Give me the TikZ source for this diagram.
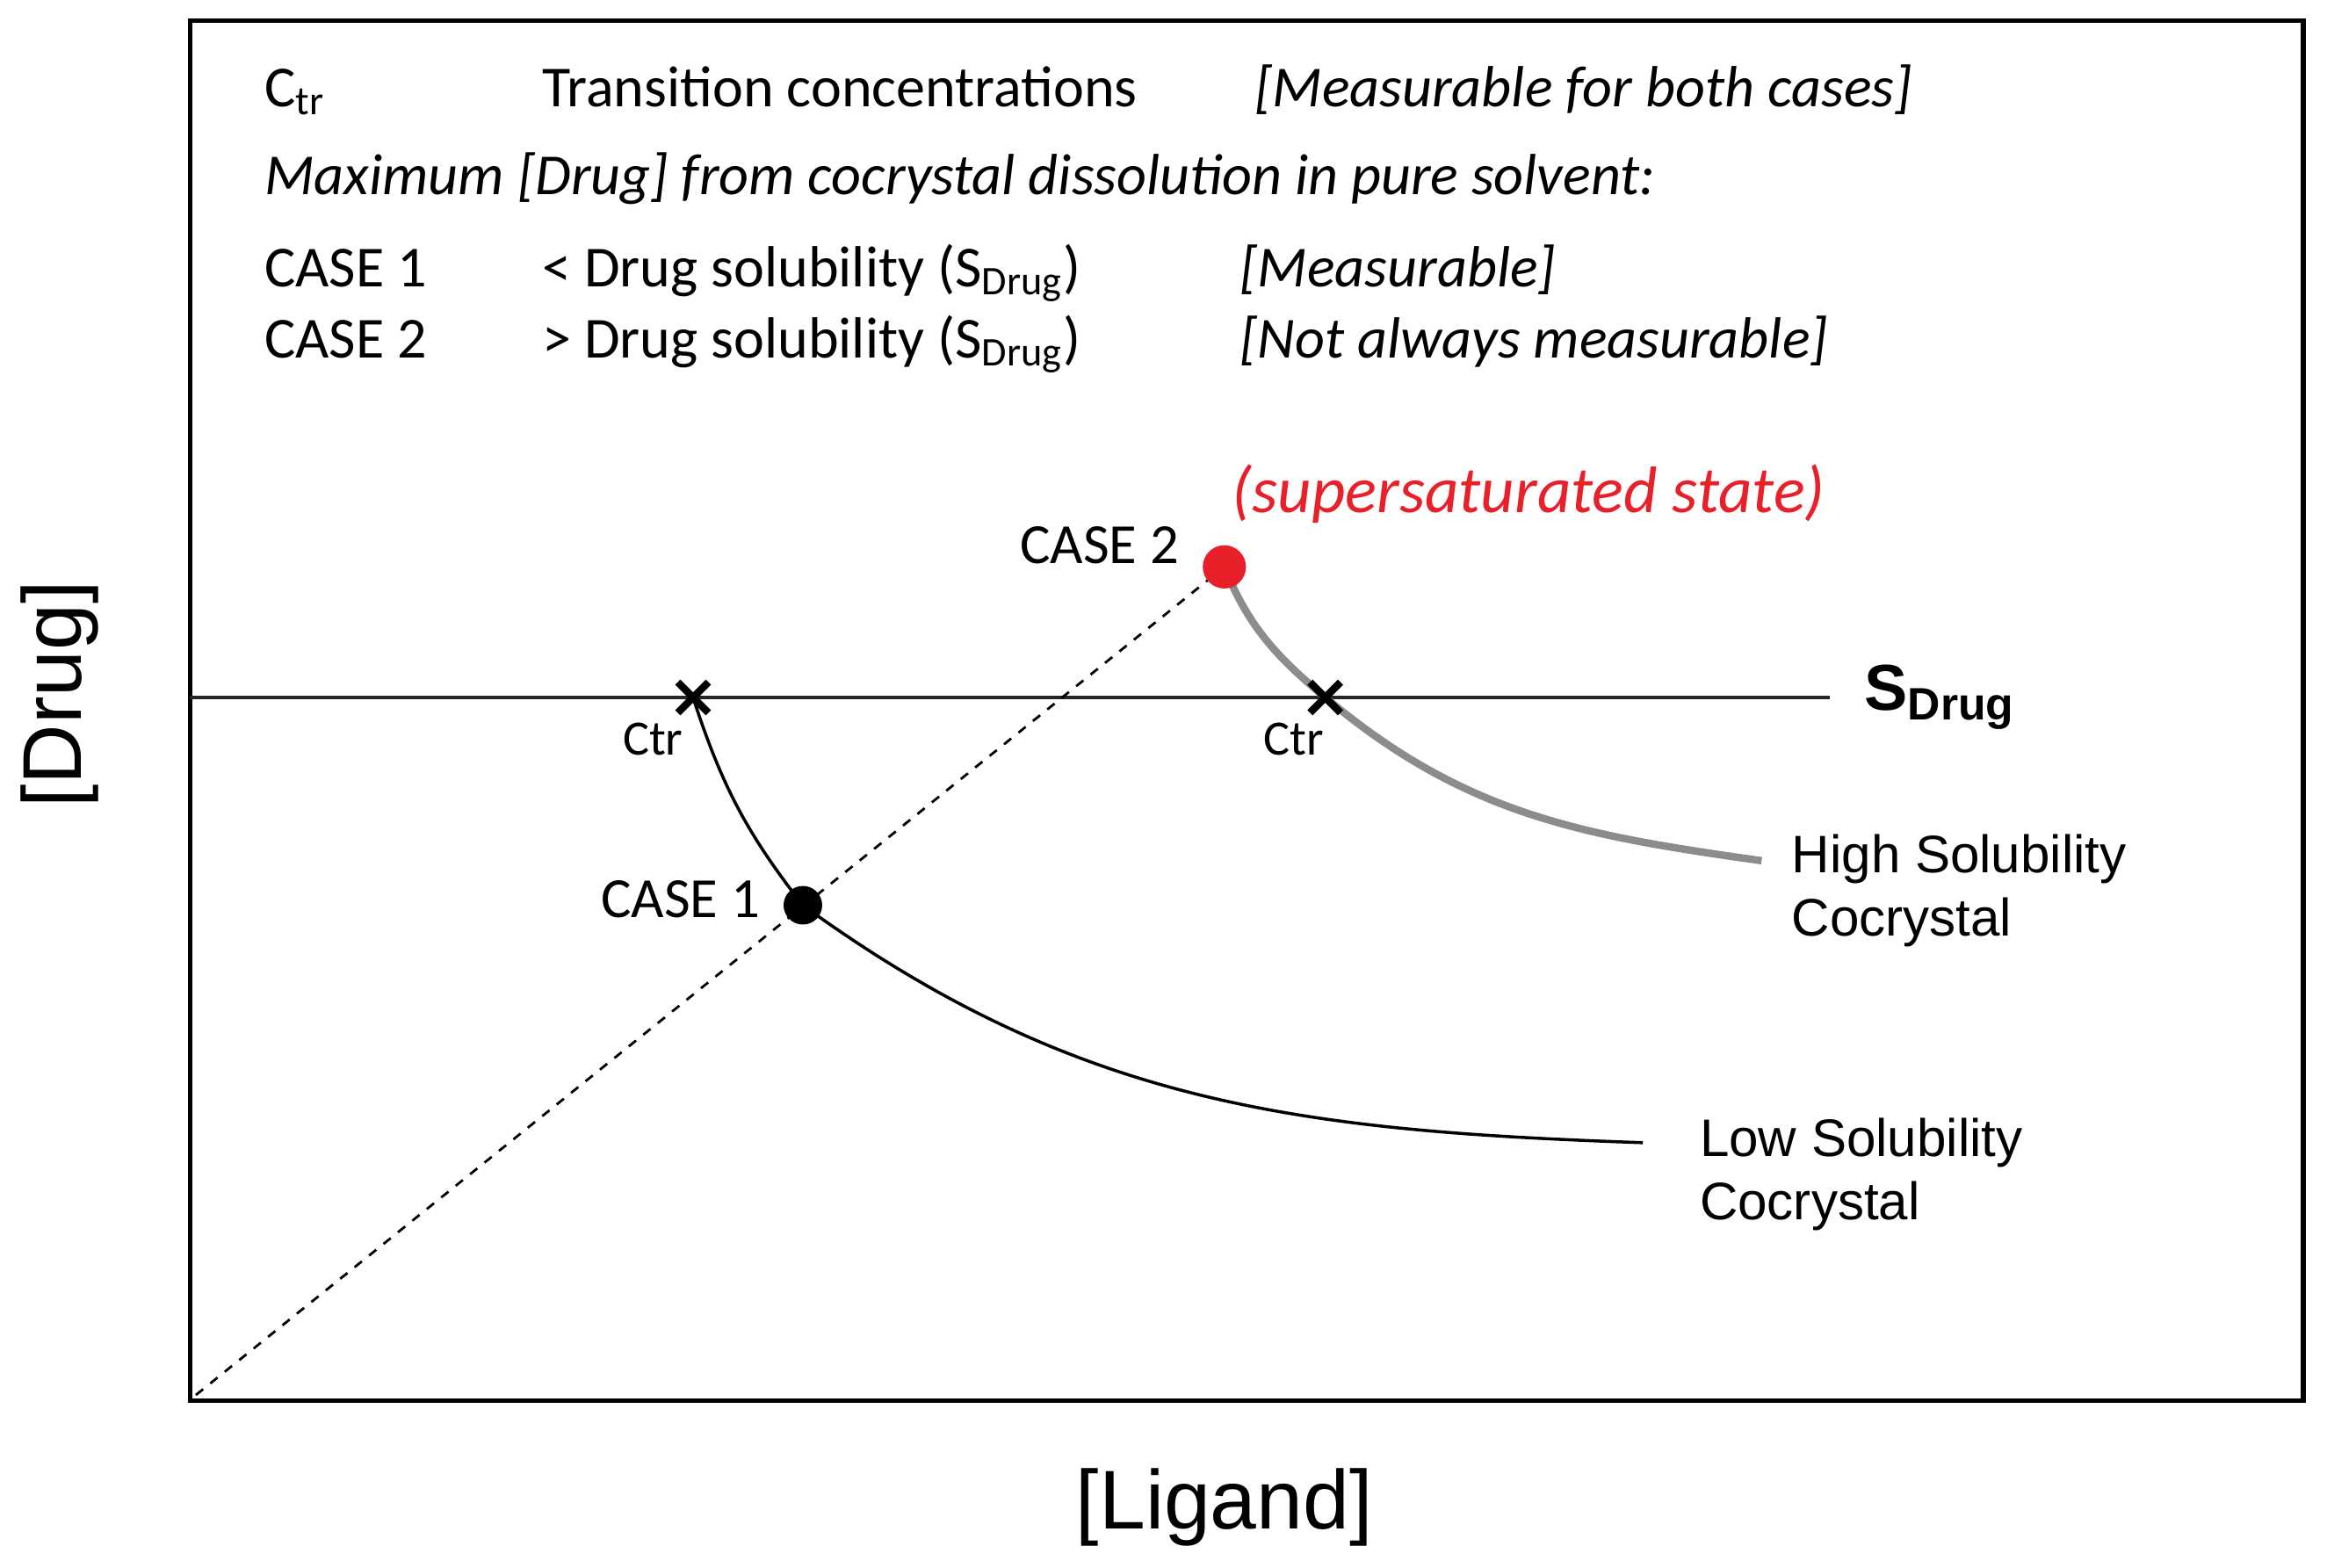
\documentclass[tikz,border=0pt]{standalone}
\usepackage{fontspec}
\setmainfont{Carlito}
\newfontfamily\arial{Liberation Sans}
\definecolor{dotred}{HTML}{E8202A}
\usetikzlibrary{shapes.misc,positioning}

\begin{document}
\begin{tikzpicture}[x=0.016894cm,y=0.016894cm,
    dot/.style={circle,fill,inner sep=0pt,minimum size=12.5pt},
    ctr/.style={cross out,draw,line width=2.4pt,inner sep=0pt,minimum size=7.5pt},
    txt/.style={anchor=base west,inner sep=0pt,font=\fontsize{18.8}{22}\selectfont},
    ittxt/.style={txt,font=\fontsize{18.8}{22}\selectfont\itshape},
    lbl/.style={anchor=north west,inner sep=0pt,align=left,font=\arial\fontsize{17.1}{20.5}\selectfont}]
    \useasboundingbox (0,0) rectangle (1568,1056);
    \draw[line width=1.5pt] (128,112) rectangle (1552,1042);
    \coordinate (o) at (132,116);
    \coordinate (sl) at (128,586);
    \coordinate (sr) at (1233,586);
    \coordinate (c1) at (467,586);
    \coordinate (c2) at (893,586);
    \coordinate (p1) at (541,446);
    \coordinate (p2) at (825,674);
    \coordinate (lowend) at (1107,286);
    \coordinate (highend) at (1187,476);
    \draw[line width=1.1pt,black!85] (sl) -- (sr);
    \draw[dashed,line width=0.8pt] (o) -- (p2);
    \draw[line width=1pt] (c1) to[out=-72,in=128] (p1) to[out=-36,in=178] (lowend);
    \draw[line width=2.4pt,black!45] (p2) to[out=-68,in=140] (c2) to[out=-40,in=172] (highend);
    \node[ctr] (x1) at (c1) {};
    \node[ctr] (x2) at (c2) {};
    \node[dot] (d1) at (p1) {};
    \node[dot,dotred,minimum size=14pt] (d2) at (p2) {};
    \node[font=\fontsize{16}{19}\selectfont] (t1) at (440,558) {Ctr};
    \node[font=\fontsize{16}{19}\selectfont] (t2) at (872,558) {Ctr};
    \node[left=4pt of d1,font=\fontsize{18.4}{21}\selectfont,yshift=2pt] (k1) {CASE 1};
    \node[left=4pt of d2,font=\fontsize{18.4}{21}\selectfont,yshift=7pt] (k2) {CASE 2};
    \node[anchor=west,inner sep=0pt,text=dotred,font=\fontsize{21.3}{24}\selectfont\itshape] (ss) at (830,723) {(supersaturated state)};
    \node[right=11pt of sr,inner sep=0pt,font=\arial\bfseries\fontsize{21}{24}\selectfont] (sd) {S\textsubscript{Drug}};
    \node[lbl] (hs) at (1207,494) {High Solubility\\Cocrystal};
    \node[lbl] (ls) at (1145,303) {Low Solubility\\Cocrystal};
    \node[rotate=90,font=\arial\fontsize{27}{30}\selectfont] (yl) at (40,588) {[Drug]};
    \node[font=\arial\fontsize{27}{30}\selectfont] (xl) at (825,40) {[Ligand]};
    \node[txt] (a1) at (178,984) {C\textsubscript{tr}};
    \node[txt] (a2) at (365,984) {Transition concentrations};
    \node[ittxt] (a3) at (845,984) {[Measurable for both cases]};
    \node[ittxt] (b1) at (178,925) {Maximum [Drug] from cocrystal dissolution in pure solvent:};
    \node[txt] (e1) at (178,863) {CASE 1};
    \node[txt] (e2) at (365,863) {< Drug solubility (S\textsubscript{Drug})};
    \node[ittxt] (e3) at (835,863) {[Measurable]};
    \node[txt] (f1) at (178,815) {CASE 2};
    \node[txt] (f2) at (365,815) {> Drug solubility (S\textsubscript{Drug})};
    \node[ittxt] (f3) at (835,815) {[Not always measurable]};
\end{tikzpicture}
\end{document}
